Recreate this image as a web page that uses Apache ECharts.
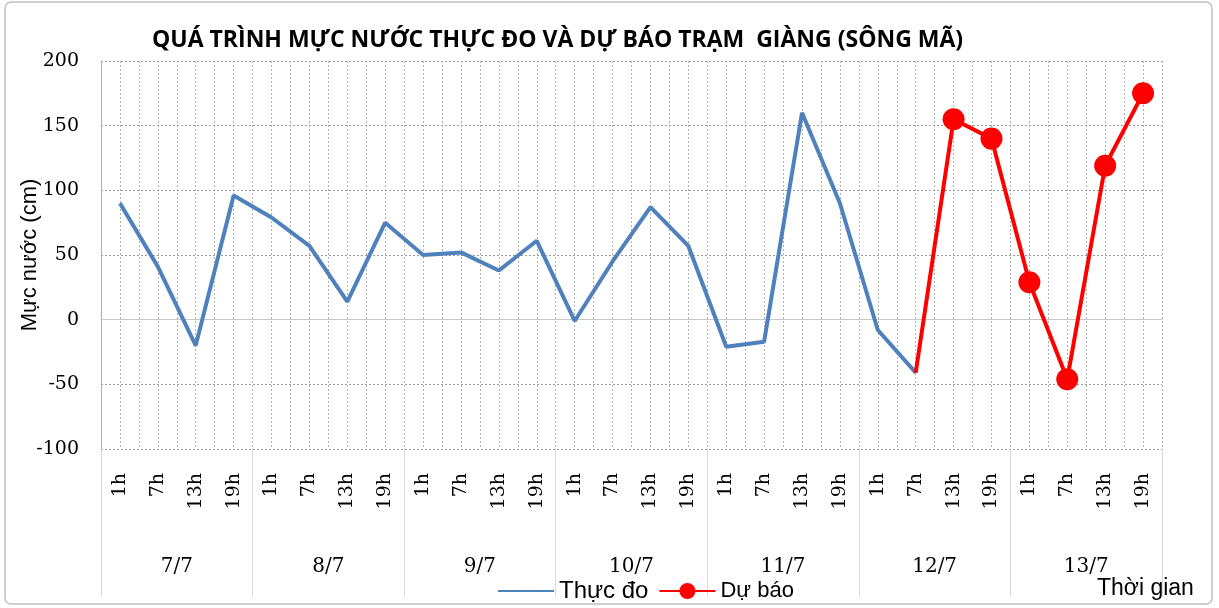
<!DOCTYPE html>
<html>
<head>
<meta charset="utf-8">
<script src="https://cdn.jsdelivr.net/npm/echarts@6/dist/echarts.min.js"></script>
<style>
  html, body { margin: 0; padding: 0; background: #fff; }
  #main { width: 1219px; height: 608px; }
</style>
</head>
<body>
<div id="main"></div>
<script>
var days = ['7/7', '8/7', '9/7', '10/7', '11/7', '12/7', '13/7'];
var hours = ['1h', '7h', '13h', '19h'];

// Thực đo (cm)
var observed = [90, 41, -20, 96,  79, 57, 14, 75,  50, 52, 38, 61,
                -1, 45, 87, 57,  -21, -17, 160, 90,  -8, -41, null, null,
                null, null, null, null];
// Dự báo (cm)
var forecast = [null, null, null, null,  null, null, null, null,  null, null, null, null,
                null, null, null, null,  null, null, null, null,  null, -41, 155, 140,
                29, -46, 119, 175];

var yTicks = [-100, -50, 0, 50, 100, 150, 200];

var hourCats = [];
days.forEach(function () { hours.forEach(function (h) { hourCats.push(h); }); });
var halfCats = [];
for (var i = 0; i < hourCats.length * 2; i++) halfCats.push('');

// first forecast point (joined to the last observed one) has no marker
var firstF = forecast.findIndex(function (v) { return v !== null; });
var forecastData = forecast.map(function (v, i) {
    return i === firstF ? { value: v, symbol: 'none' } : v;
});

var serif = 'DejaVu Serif';
var sans = 'Liberation Sans';

var myChart = echarts.init(document.getElementById('main'));

var option = {
    animation: false,
    backgroundColor: '#fff',
    title: {
        text: 'QUÁ TRÌNH MỰC NƯỚC THỰC ĐO VÀ DỰ BÁO TRẠM  GIÀNG (SÔNG MÃ)',
        left: 147,
        top: 24,
        textStyle: { fontFamily: 'Open Sans', fontWeight: 'bold', fontSize: 23, color: '#000' }
    },
    legend: {
        left: 492,
        top: 574,
        itemWidth: 56,
        itemHeight: 20,
        itemGap: 10,
        textStyle: { fontFamily: sans, fontSize: 22, color: '#000' },
        data: [
            { name: 'Thực đo', itemStyle: { opacity: 0 }, textStyle: { fontSize: 24 } },
            { name: 'Dự báo' }
        ]
    },
    grid: { left: 101, right: 57, top: 61, bottom: 159, outerBoundsMode: 'none' },
    xAxis: [
        {
            type: 'category',
            data: hourCats,
            boundaryGap: true,
            axisLine: { lineStyle: { color: '#c8c8c8', width: 1 } },
            axisTick: { show: false },
            splitLine: { show: false },
            axisLabel: {
                interval: 0, rotate: 90, margin: 24,
                fontFamily: serif, fontSize: 19, color: '#000'
            }
        },
        {
            type: 'category',
            data: days,
            position: 'bottom',
            boundaryGap: true,
            axisLine: { show: false },
            axisTick: { show: true, interval: 0, length: 148, lineStyle: { color: '#d9d9d9' } },
            splitLine: { show: false },
            axisLabel: {
                interval: 0, margin: 108,
                fontFamily: serif, fontSize: 20, color: '#000'
            }
        },
        {
            type: 'category',
            data: halfCats,
            boundaryGap: true,
            axisLine: { show: false },
            axisTick: { show: false },
            axisLabel: { show: false },
            splitLine: { show: true, interval: 0, lineStyle: { color: '#b0b0b0', type: [2, 2], width: 1 } }
        }
    ],
    yAxis: {
        type: 'value',
        min: yTicks[0],
        max: yTicks[yTicks.length - 1],
        interval: 50,
        name: 'Mực nước (cm)',
        nameLocation: 'middle',
        nameGap: 60,
        nameMoveOverlap: false,
        nameTextStyle: { fontFamily: sans, fontSize: 22, color: '#000' },
        axisLine: { show: true, lineStyle: { color: '#b0b0b0' } },
        axisTick: { show: false },
        axisLabel: { margin: 22, fontFamily: serif, fontSize: 19, color: '#000' },
        splitLine: { show: true, lineStyle: { color: '#9a9a9a', type: [2, 2], width: 1 } }
    },
    graphic: [
        {
            type: 'rect',
            shape: { x: 5, y: 2, width: 1207, height: 602, r: 6 },
            style: { fill: 'none', stroke: '#c0c0c0', lineWidth: 1.5 },
            z: -1
        },
        {
            type: 'text',
            left: 1097,
            top: 577,
            style: { text: 'Thời gian', fontFamily: sans, fontSize: 23, fill: '#000' }
        }
    ],
    series: [
        {
            name: 'Thực đo',
            type: 'line',
            data: observed,
            symbol: 'none',
            lineStyle: { color: '#4F81BD', width: 4 },
            itemStyle: { color: '#4F81BD' },
            z: 3
        },
        {
            name: 'Dự báo',
            type: 'line',
            data: forecastData,
            symbol: 'circle',
            symbolSize: 22,
            lineStyle: { color: '#FF0000', width: 4 },
            itemStyle: { color: '#FF0000' },
            z: 4
        }
    ]
};
myChart.setOption(option);
</script>
</body>
</html>
